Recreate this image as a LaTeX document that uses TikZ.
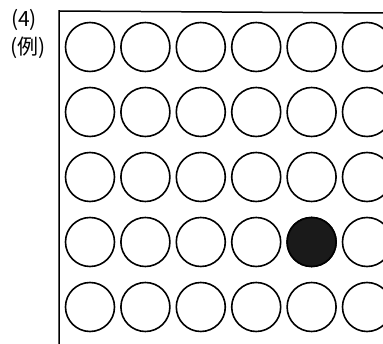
\documentclass[tikz,border=0pt]{standalone}
\usepackage{fontspec}
\newfontfamily\cjk{Noto Sans CJK JP}
\usetikzlibrary{positioning}
\definecolor{InkDark}{HTML}{1A1A1A}

\begin{document}
\begin{tikzpicture}[x=1pt, y=-1pt,
    hole/.style={circle, draw=black, line width=1.6pt, minimum size=49pt, inner sep=0pt},
    filled/.style={hole, fill=InkDark},
    frameline/.style={line width=1.5pt, draw=black},
    lbl/.style={font=\cjk\fontsize{21}{23}\selectfont, inner sep=0pt, anchor=west}
  ]
  \useasboundingbox (0,0) rectangle (383,344);

  % Frame (left and top edges only)
  \coordinate (fbl) at (59,344);
  \coordinate (ftl) at (59,11);
  \coordinate (ftr) at (383,13);
  \draw[frameline] (fbl) -- (ftl) -- (ftr);

  % Labels
  \node[lbl] (num) at (11,20) {(4)};
  \node[lbl] (ex) at (10,48) {(例)};

  % Grid of circles
  \foreach \col in {0,...,5} {
    \foreach \row in {0,...,4} {
      \node[hole] (c-\col-\row) at ({90+55.4*\col},{47+65*\row}) {};
    }
  }
  \node[filled] (mark) at (c-4-3) {};
\end{tikzpicture}
\end{document}
